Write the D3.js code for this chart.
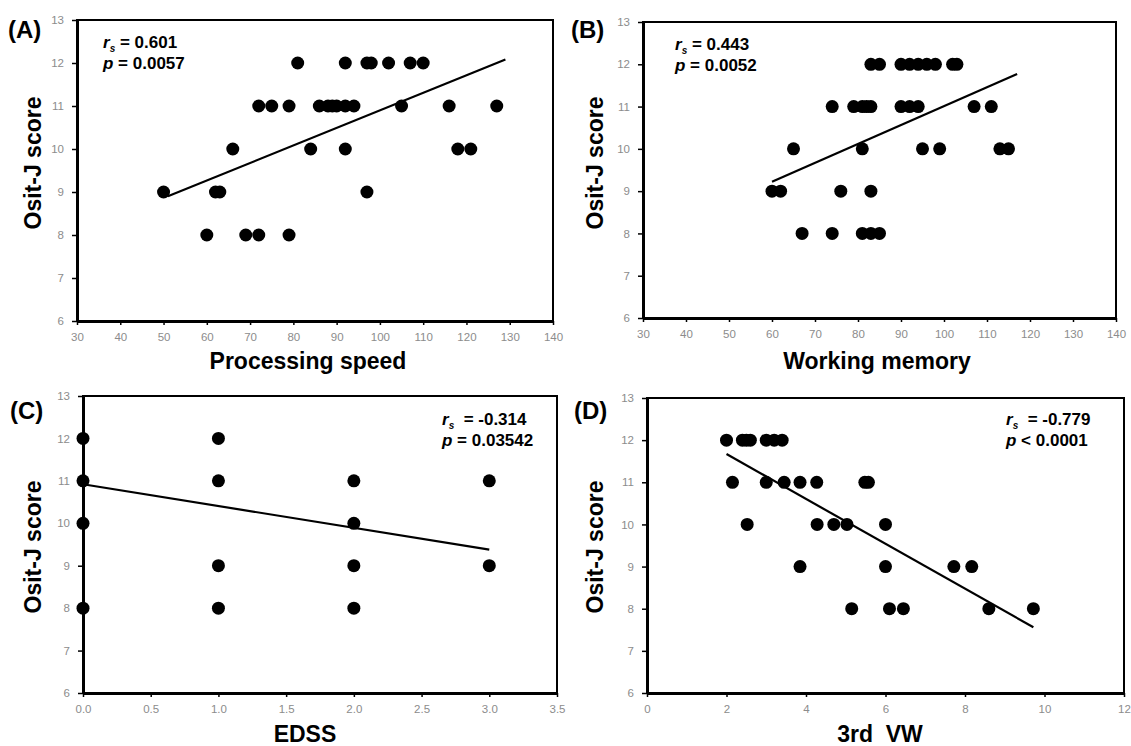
<!DOCTYPE html>
<html>
<head>
<meta charset="utf-8">
<script src="https://cdn.jsdelivr.net/npm/d3@7/dist/d3.min.js"></script>
<style>
  html, body { margin: 0; padding: 0; background: #fff; }
  svg { display: block; }
</style>
</head>
<body>
<svg id="chart" width="1131" height="746"></svg>
<script>
// ---------------- DATA ----------------
// Panel A: Processing speed vs Osit-J score
const aX = [50, 60, 62, 63, 66, 69, 72, 79, 72, 75, 79, 86, 88, 89, 90, 92, 94, 105, 116, 127, 81, 92, 97, 98, 102, 107, 110, 84, 92, 118, 121, 97];
const aY = [9, 8, 9, 9, 10, 8, 8, 8, 11, 11, 11, 11, 11, 11, 11, 11, 11, 11, 11, 11, 12, 12, 12, 12, 12, 12, 12, 10, 10, 10, 10, 9];
const aTrendX = [51, 129];
const aTrendY = [8.9, 12.08];

// Panel B: Working memory vs Osit-J score
const bX = [60, 62, 65, 67, 74, 74, 76, 79, 81, 82, 83, 90, 92, 94, 107, 111, 83, 85, 90, 92, 94, 96, 98, 102, 103, 81, 95, 99, 113, 115, 83, 81, 83, 85];
const bY = [9, 9, 10, 8, 8, 11, 9, 11, 11, 11, 11, 11, 11, 11, 11, 11, 12, 12, 12, 12, 12, 12, 12, 12, 12, 10, 10, 10, 10, 10, 9, 8, 8, 8];
const bTrendX = [60, 117];
const bTrendY = [9.22, 11.77];

// Panel C: EDSS vs Osit-J score
const cX = [0, 0, 0, 0, 1, 1, 1, 1, 2, 2, 2, 2, 3, 3];
const cY = [12, 11, 10, 8, 12, 11, 9, 8, 11, 10, 9, 8, 11, 9];
const cTrendX = [0, 3];
const cTrendY = [10.92, 9.38];

// Panel D: 3rd VW vs Osit-J score
const dX = [2.0, 2.4, 2.5, 2.6, 3.0, 3.2, 3.4, 2.15, 3.0, 3.45, 3.85, 4.27, 5.48, 5.57, 2.52, 4.28, 4.7, 5.03, 6.0, 3.85, 6.0, 7.72, 8.17, 5.15, 6.1, 6.45, 8.6, 9.72];
const dY = [12, 12, 12, 12, 12, 12, 12, 11, 11, 11, 11, 11, 11, 11, 10, 10, 10, 10, 10, 9, 9, 9, 9, 8, 8, 8, 8, 8];
const dTrendX = [2.0, 9.72];
const dTrendY = [11.67, 7.56];

// Tick values
const yTicks = [6, 7, 8, 9, 10, 11, 12, 13];
const abXTicks = [30, 40, 50, 60, 70, 80, 90, 100, 110, 120, 130, 140];
const cXTicks = [0, 0.5, 1, 1.5, 2, 2.5, 3, 3.5];
const dXTicks = [0, 2, 4, 6, 8, 10, 12];

// Labels
const panelLabels = ["(A)", "(B)", "(C)", "(D)"];
const xTitles = ["Processing speed", "Working memory", "EDSS", "3rd  VW"];
const yTitle = "Osit-J score";
const rsValues = ["0.601", "0.443", "-0.314", "-0.779"];
const pValues = ["= 0.0057", "= 0.0052", "= 0.03542", "< 0.0001"];

// ---------------- LAYOUT ----------------
const panels = [
  { x: aX, y: aY, tx: aTrendX, ty: aTrendY, xDom: [30, 140], xTicks: abXTicks, fmt: d3.format("d"),
    box: { l: 77, t: 20, r: 553, b: 321 }, stat: { x: 103, y: 48, wide: false },
    lab: { x: 8, y: 38 }, yt: { x: 33, y: 163 }, xt: { x: 308, y: 369 } },
  { x: bX, y: bY, tx: bTrendX, ty: bTrendY, xDom: [30, 140], xTicks: abXTicks, fmt: d3.format("d"),
    box: { l: 643, t: 22, r: 1116, b: 318 }, stat: { x: 675, y: 50, wide: false },
    lab: { x: 571, y: 38 }, yt: { x: 595, y: 163 }, xt: { x: 877, y: 369 } },
  { x: cX, y: cY, tx: cTrendX, ty: cTrendY, xDom: [0, 3.5], xTicks: cXTicks, fmt: d3.format(".1f"),
    box: { l: 83, t: 396, r: 557, b: 693 }, stat: { x: 442, y: 425, wide: true },
    lab: { x: 10, y: 419 }, yt: { x: 33, y: 547 }, xt: { x: 305, y: 742 } },
  { x: dX, y: dY, tx: dTrendX, ty: dTrendY, xDom: [0, 12], xTicks: dXTicks, fmt: d3.format("d"),
    box: { l: 647, t: 398, r: 1124, b: 693 }, stat: { x: 1006, y: 425, wide: true },
    lab: { x: 574, y: 419 }, yt: { x: 595, y: 547 }, xt: { x: 880, y: 742 } }
];

const svg = d3.select("#chart");
const FONT = "'Liberation Sans', Arial, sans-serif";

panels.forEach((p, i) => {
  const xs = d3.scaleLinear().domain(p.xDom).range([p.box.l, p.box.r]);
  const ys = d3.scaleLinear().domain([6, 13]).range([p.box.b, p.box.t]);
  const g = svg.append("g");

  // frame (top/right)
  g.append("rect")
    .attr("x", p.box.l).attr("y", p.box.t)
    .attr("width", p.box.r - p.box.l).attr("height", p.box.b - p.box.t)
    .attr("fill", "none").attr("stroke", "#000").attr("stroke-width", 2);

  // axes
  const yAxis = d3.axisLeft(ys).tickValues(yTicks).tickSize(5).tickSizeOuter(0).tickPadding(8).tickFormat(d3.format("d"));
  const xAxis = d3.axisBottom(xs).tickValues(p.xTicks).tickSize(4).tickSizeOuter(0).tickPadding(8).tickFormat(p.fmt);

  const ya = g.append("g").attr("transform", `translate(${p.box.l},0)`).call(yAxis);
  const xa = g.append("g").attr("transform", `translate(0,${p.box.b})`).call(xAxis);
  [ya, xa].forEach(a => {
    a.select(".domain").attr("stroke", "#000").attr("stroke-width", 3);
    a.selectAll(".tick line").attr("stroke", "#000").attr("stroke-width", 1.5);
    a.selectAll(".tick text").attr("fill", "#8c8c8c").style("font-family", FONT).style("font-size", "11.5px");
  });

  // points
  g.append("g").selectAll("circle")
    .data(p.x.map((v, k) => [v, p.y[k]]))
    .join("circle")
    .attr("cx", d => xs(d[0]))
    .attr("cy", d => ys(d[1]))
    .attr("r", 6.5)
    .attr("fill", "#000");

  // trend line
  g.append("line")
    .attr("x1", xs(p.tx[0])).attr("y1", ys(p.ty[0]))
    .attr("x2", xs(p.tx[1])).attr("y2", ys(p.ty[1]))
    .attr("stroke", "#000").attr("stroke-width", 2.2);

  // stats text
  const st = g.append("text")
    .attr("x", p.stat.x).attr("y", p.stat.y)
    .attr("xml:space", "preserve")
    .style("font-family", FONT).style("font-size", "17px").style("font-weight", "bold");
  st.append("tspan").style("font-style", "italic").text("r");
  st.append("tspan").attr("dy", 4).style("font-size", "10px").style("font-style", "italic").text("s");
  st.append("tspan").attr("dy", -4).text((p.stat.wide ? "  = " : " = ") + rsValues[i]);
  const st2 = g.append("text")
    .attr("x", p.stat.x).attr("y", p.stat.y + 21)
    .style("font-family", FONT).style("font-size", "17px").style("font-weight", "bold");
  st2.append("tspan").style("font-style", "italic").text("p");
  st2.append("tspan").text(" " + pValues[i]);

  // panel label
  g.append("text").attr("x", p.lab.x).attr("y", p.lab.y)
    .style("font-family", FONT).style("font-size", "24px").style("font-weight", "bold")
    .text(panelLabels[i]);

  // y title
  g.append("text")
    .attr("transform", `translate(${p.yt.x + 8},${p.yt.y}) rotate(-90)`)
    .attr("text-anchor", "middle")
    .style("font-family", FONT).style("font-size", "23px").style("font-weight", "bold")
    .text(yTitle);

  // x title
  g.append("text").attr("x", p.xt.x).attr("y", p.xt.y)
    .attr("text-anchor", "middle")
    .attr("xml:space", "preserve")
    .style("white-space", "pre")
    .style("font-family", FONT).style("font-size", "23px").style("font-weight", "bold")
    .text(xTitles[i]);
});
</script>
</body>
</html>
